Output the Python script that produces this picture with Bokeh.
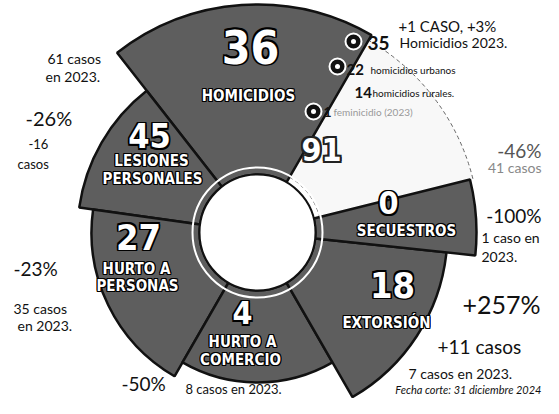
from bokeh.plotting import figure
from bokeh.models import ColumnDataSource
from bokeh.core.properties import value
from bokeh.embed import file_html
from bokeh.resources import INLINE

# ---- data ----
categories = ["HOMICIDIOS", "LESIONES PERSONALES", "HURTO A PERSONAS",
              "HURTO A COMERCIO", "EXTORSIÓN", "SECUESTROS", "OTRO"]
cases_2024 = [36, 45, 27, 4, 18, 0, 91]
cases_2023 = [35, 61, 35, 8, 7, 1, None]
pct_change = ["+3%", "-26%", "-23%", "-50%", "+257%", "-100%", "-46%"]
homicide_detail_values = [35, 22, 14, 1]
homicide_detail_labels = ["Homicidios 2023.", "homicidios urbanos",
                          "homicidios rurales.", "feminicidio (2023)"]

# ---- layout (not data) ----
CX, CY = 257, -232
start_deg = [60, 128, 172, 240, 300, -6, 14]
end_deg = [128, 172, 240, 300, 354, 14, 60]
outer_r = [228, 180, 166, 150, 190, 219, 222]
INNER = 58

p = figure(width=543, height=398, x_range=(0, 543), y_range=(-398, 0),
           output_backend="svg", toolbar_location=None, min_border=0)
p.axis.visible = False
p.grid.visible = False
p.outline_line_color = None
p.background_fill_color = "white"

FONT = "Lato"
BOLD = "DejaVu Sans Condensed"

# faint segment (index 6)
faint = ColumnDataSource(dict(x=[CX], y=[CY], r=[outer_r[6]],
                              s=[start_deg[6]], e=[end_deg[6]]))
p.annular_wedge(x="x", y="y", inner_radius=INNER + 6, outer_radius="r",
                start_angle="s", end_angle="e", start_angle_units="deg",
                end_angle_units="deg", source=faint, fill_color="#f8f8f8",
                line_color="#666666", line_dash="4 3", line_width=1)

dark = ColumnDataSource(dict(x=[CX] * 6, y=[CY] * 6, r=outer_r[:6],
                             s=start_deg[:6], e=end_deg[:6], cat=categories[:6]))
p.annular_wedge(x="x", y="y", inner_radius=INNER, outer_radius="r",
                start_angle="s", end_angle="e", start_angle_units="deg",
                end_angle_units="deg", source=dark, fill_color="#5e5e5e",
                line_color="#111111", line_width=2.5)

# ring around the hole
p.circle(x=[CX], y=[CY], radius=INNER + 7, fill_color=None,
         line_color="white", line_width=2)
p.circle(x=[CX], y=[CY], radius=INNER, fill_color="white",
         line_color="#111111", line_width=2)


def label(x, y, txt, size, color="white", outline="black", font=BOLD, w=1.5):
    if outline:
        for dx, dy in [(-w, 0), (w, 0), (0, -w), (0, w), (-w, -w), (w, w), (-w, w), (w, -w)]:
            p.text(x=[x], y=[-y], text=[txt], x_offset=dx, y_offset=dy,
                   text_font=value(font), text_font_style="bold",
                   text_font_size=f"{size}px", text_color=outline,
                   text_align="center", text_baseline="middle")
    p.text(x=[x], y=[-y], text=[txt], text_font=value(font),
           text_font_style="bold", text_font_size=f"{size}px",
           text_color=color, text_align="center", text_baseline="middle")


def note(x, y, txt, size, color="#111111", align="left", style="normal", font=FONT):
    p.text(x=[x], y=[-y], text=[txt], text_font=value(font),
           text_font_style=style, text_font_size=f"{size}px",
           text_color=color, text_align=align, text_baseline="middle")


# numbers and category names inside segments
num_pos = [(250, 46, 46), (149, 135, 34), (138, 236, 36), (242, 312, 32),
           (392, 284, 36), (388, 202, 32), (321, 149, 32)]
for i, (x, y, s) in enumerate(num_pos):
    if i == 6:
        label(x, y, str(cases_2024[i]), s, color="white", outline="#222222", w=2)
    else:
        label(x, y, str(cases_2024[i]), s)

cat_lines = [(categories[0], 248, 95), ("LESIONES", 151, 160), ("PERSONALES", 152, 178),
             ("HURTO A", 136, 268), ("PERSONAS", 137, 285),
             ("HURTO A", 242, 341), ("COMERCIO", 240, 359),
             (categories[4], 386, 322), (categories[5], 406, 230)]
for txt, x, y in cat_lines:
    label(x, y, txt, 15, w=1)

# annotations
note(47, 58, f"{cases_2023[1]} casos", 14)
note(45, 76, "en 2023.", 14)
note(25, 117, pct_change[1], 20)
note(28, 143, f"{cases_2024[1] - cases_2023[1]}", 13)
note(17, 163, "casos", 13)

note(13, 268, pct_change[2], 19)
note(13, 308, f"{cases_2023[2]} casos", 14)
note(17, 325, "en 2023.", 14)

note(121, 383, pct_change[3], 19)
note(185, 388, f"{cases_2023[3]} casos en  2023.", 13)

note(462, 303, pct_change[4], 25)
note(437, 346, f"+{cases_2024[4] - cases_2023[4]} casos", 19)
note(408, 373, f"{cases_2023[4]} casos en  2023.", 14)
note(541, 389, "Fecha corte: 31 diciembre 2024", 11, align="right", style="italic")

note(541, 215, pct_change[5], 19, align="right")
note(481, 237, f"{cases_2023[5]} caso en", 14)
note(481, 256, "2023.", 14)

note(541, 150, pct_change[6], 19, color="#555555", align="right")
note(541, 167, "41 casos", 14, color="#888888", align="right")

note(398, 25, f"+{cases_2024[0] - cases_2023[0]} CASO, {pct_change[0]}", 15)

# homicide detail markers
marker_xy = [(353, 41), (337, 66), (313, 111)]
p.scatter(x=[m[0] for m in marker_xy], y=[-m[1] for m in marker_xy], size=16,
          fill_color="#111111", line_color="white", line_width=2)
p.scatter(x=[m[0] for m in marker_xy], y=[-m[1] for m in marker_xy], size=5,
          fill_color="white", line_color=None)

note(367, 42, str(homicide_detail_values[0]), 19, style="bold")
note(399, 42, homicide_detail_labels[0], 14)
note(346, 69, str(homicide_detail_values[1]), 15, style="bold")
note(370, 69, homicide_detail_labels[1], 10)
note(354, 92, str(homicide_detail_values[2]), 15, style="bold")
note(372, 92, homicide_detail_labels[2], 10)
note(323, 111, str(homicide_detail_values[3]), 14, style="bold")
note(333, 111, homicide_detail_labels[3], 10, color="#999999")

open("out.html", "w").write(file_html(p, INLINE))
